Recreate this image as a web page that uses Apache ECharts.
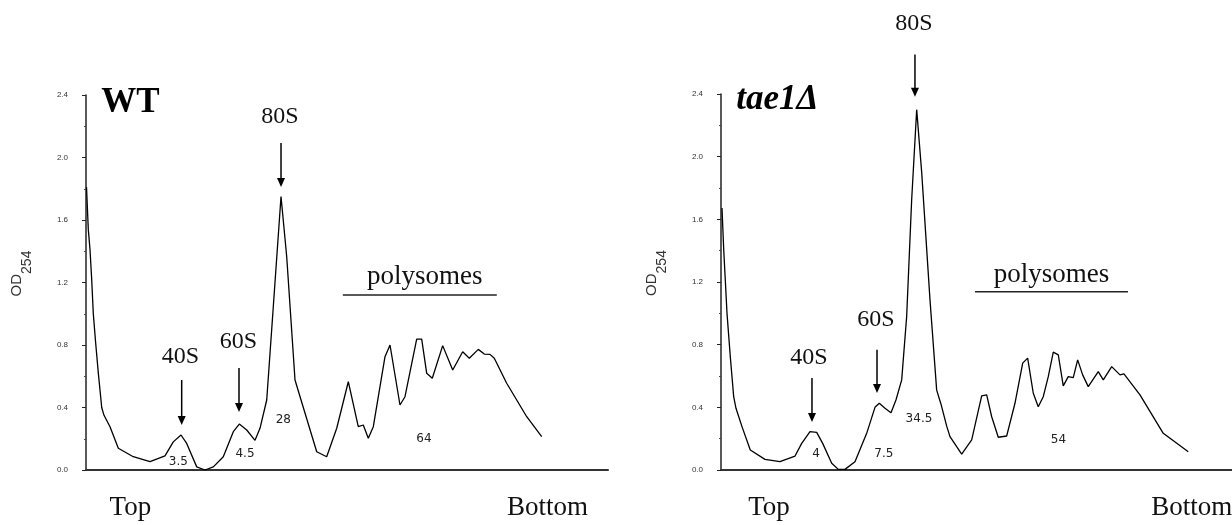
<!DOCTYPE html>
<html>
<head>
<meta charset="utf-8">
<script src="https://cdn.jsdelivr.net/npm/echarts@6/dist/echarts.min.js"></script>
<style>
  html, body { margin: 0; padding: 0; background: #fff; }
  #chart { width: 1232px; height: 525px; }
</style>
</head>
<body>
<div id="chart"></div>
<script>
// gradient position (% of tube, top -> bottom) and OD254
const wtX = [0.1, 0.44, 0.77, 1.09, 1.4, 1.86, 2.36, 3.01, 3.45, 4.6, 6.19, 9.06, 12.26, 15.13, 16.72, 18.2, 19.29, 21.21, 22.8, 24.39,
  26.3, 28.22, 29.37, 30.79, 32.38, 33.33, 34.62, 35.88, 37.36, 38.45, 40.04, 41.63, 44.2, 46.11, 48.03, 50.25, 52.16, 53.12, 54.08, 55.04,
  57.28, 58.24, 60.15, 61.11, 63.35, 64.31, 65.27, 66.34, 68.33, 70.25, 72.16, 73.43, 75.15, 76.3, 77.39, 78.22, 80.59, 84.43, 87.3]
const wtY = [1.81, 1.54, 1.41, 1.22, 1.0, 0.81, 0.62, 0.4, 0.35, 0.277, 0.139, 0.085, 0.053, 0.09, 0.18, 0.224, 0.17, 0.02, 0.0, 0.02,
  0.085, 0.245, 0.294, 0.256, 0.19, 0.267, 0.448, 1.045, 1.75, 1.365, 0.576, 0.4, 0.117, 0.085, 0.267, 0.565, 0.277, 0.288, 0.203, 0.277,
  0.725, 0.8, 0.416, 0.469, 0.838, 0.838, 0.619, 0.587, 0.796, 0.64, 0.757, 0.715, 0.772, 0.742, 0.74, 0.715, 0.555, 0.341, 0.213]

const taeX = [0.19, 0.52, 0.82, 1.15, 1.78, 2.43, 2.87, 4.02, 5.61, 8.43, 11.3, 14.18, 15.46, 17.05, 18.33, 19.48, 21.21, 22.47, 23.75, 25.67,
  27.91, 29.5, 30.33, 31.42, 32.57, 33.52, 34.62, 35.57, 36.53, 37.49, 38.45, 40.04, 41.32, 42.15, 43.24, 43.87, 45.15, 46.11, 48.03, 49.94,
  50.9, 51.86, 53.12, 54.73, 56.32, 57.8, 58.75, 59.83, 60.78, 61.74, 62.7, 63.66, 64.62, 65.57, 66.53, 67.49, 68.33, 69.29, 70.36, 72.28,
  73.24, 74.85, 76.44, 77.2, 80.27, 84.73, 89.52]
const taeY = [1.672, 1.406, 1.214, 1.0, 0.724, 0.468, 0.394, 0.277, 0.128, 0.068, 0.053, 0.089, 0.17, 0.245, 0.24, 0.17, 0.043, 0.004, 0.004, 0.053,
  0.234, 0.4, 0.426, 0.394, 0.366, 0.447, 0.575, 0.98, 1.725, 2.3, 1.9, 1.086, 0.51, 0.42, 0.28, 0.213, 0.149, 0.102, 0.192, 0.473,
  0.479, 0.34, 0.209, 0.217, 0.426, 0.682, 0.714, 0.49, 0.404, 0.468, 0.596, 0.752, 0.735, 0.537, 0.596, 0.59, 0.703, 0.607, 0.532, 0.628,
  0.575, 0.66, 0.607, 0.613, 0.479, 0.234, 0.117]

const yTicks = [0, 0.4, 0.8, 1.2, 1.6, 2.0, 2.4]
const peakNames = ['40S', '60S', '80S']
const wtShares = ['3.5', '4.5', '28', '64']
const taeShares = ['4', '7.5', '34.5', '54']

// where the annotations sit, in data units of each panel
const layout = [
  {
    title: 'WT', titleAt: [8.5, 2.352], italic: false,
    peakAt: [[18.1, 0.726], [29.2, 0.822], [37.16, 2.262]],
    arrows: [[18.33, 0.576, 0.288], [29.31, 0.653, 0.371], [37.36, 2.093, 1.811]],
    shareAt: [[17.7, 0.054], [30.46, 0.106], [37.8, 0.32], [64.75, 0.2]],
    polyAt: [64.9, 1.238], polyBar: [49.2, 78.7, 1.12],
    topAt: [8.5, -0.243], bottomAt: [88.4, -0.243]
  },
  {
    title: 'tae1Δ', titleAt: [10.8, 2.364], italic: true,
    peakAt: [[16.86, 0.719], [29.69, 0.958], [36.97, 2.847]],
    arrows: [[17.43, 0.588, 0.307], [29.89, 0.767, 0.492], [37.16, 2.652, 2.383]],
    shareAt: [[18.2, 0.105], [31.2, 0.105], [37.93, 0.329], [64.66, 0.192]],
    polyAt: [63.3, 1.246], polyBar: [48.66, 77.97, 1.137],
    topAt: [9.2, -0.243], bottomAt: [90.2, -0.243]
  }
]

const serif = 'Liberation Serif'

function lineSeries(xs, ys, idx) {
  return {
    type: 'line',
    xAxisIndex: idx,
    yAxisIndex: idx,
    data: xs.map((x, i) => [x, ys[i]]),
    showSymbol: false,
    symbol: 'none',
    silent: true,
    lineStyle: { color: '#000', width: 1.3 }
  }
}

function yAxis(idx) {
  return {
    type: 'value',
    gridIndex: idx,
    min: yTicks[0],
    max: yTicks[yTicks.length - 1],
    interval: 0.4,
    name: '{o|OD}{s|254}',
    nameLocation: 'middle',
    nameRotate: 90,
    nameGap: 52,
    nameTextStyle: {
      padding: [0, 0, 0, 18],
      rich: {
        o: { fontFamily: 'Liberation Sans', fontSize: 15, color: '#333', padding: [0, 0, 10, 0], verticalAlign: 'top' },
        s: { fontFamily: 'Liberation Sans', fontSize: 14, color: '#333', verticalAlign: 'bottom' }
      }
    },
    axisLine: { show: true, lineStyle: { color: '#222', width: 1.5 } },
    axisTick: { show: true, length: 4, lineStyle: { color: '#222' } },
    minorTick: { show: true, splitNumber: 2, length: 2, lineStyle: { color: '#444' } },
    splitLine: { show: false },
    axisLabel: {
      margin: 18,
      fontFamily: 'Liberation Sans',
      fontSize: 8,
      color: '#333',
      formatter: v => v.toFixed(1)
    }
  }
}

// the right panel runs off the page, so its axis stops at the page edge
function xAxis(idx, max) {
  return {
    type: 'value',
    gridIndex: idx,
    min: 0,
    max: max,
    axisLine: { show: true, onZero: false, lineStyle: { color: '#333', width: 2 } },
    axisTick: { show: false },
    axisLabel: { show: false },
    splitLine: { show: false }
  }
}

let myChart = echarts.init(document.getElementById('chart'))
myChart.setOption({
  backgroundColor: '#fff',
  animation: false,
  grid: [
    { left: 86, top: 95, width: 522, height: 375 },
    { left: 721, top: 94, width: 511, height: 376 }
  ],
  xAxis: [xAxis(0, 100), xAxis(1, 97.9)],
  yAxis: [yAxis(0), yAxis(1)],
  series: [
    lineSeries(wtX, wtY, 0),
    lineSeries(taeX, taeY, 1)
  ]
})

// annotations: placed from data coordinates through each panel's axes
function text(idx, str, at, font, color) {
  let p = myChart.convertToPixel({ gridIndex: idx }, at)
  return {
    type: 'text', silent: true, x: p[0], y: p[1],
    style: { text: str, font: font, fill: color || '#111', align: 'center', verticalAlign: 'middle' }
  }
}

function arrow(idx, a) {
  let p1 = myChart.convertToPixel({ gridIndex: idx }, [a[0], a[1]])
  let p2 = myChart.convertToPixel({ gridIndex: idx }, [a[0], a[2]])
  return [
    { type: 'line', silent: true, shape: { x1: p1[0], y1: p1[1], x2: p2[0], y2: p2[1] - 6 }, style: { stroke: '#000', lineWidth: 1.5 } },
    { type: 'polygon', silent: true, shape: { points: [[p2[0] - 4, p2[1] - 9], [p2[0] + 4, p2[1] - 9], [p2[0], p2[1]]] }, style: { fill: '#000' } }
  ]
}

let elements = []
layout.forEach((lay, idx) => {
  let shares = idx === 0 ? wtShares : taeShares
  elements.push(text(idx, lay.title, lay.titleAt, (lay.italic ? 'italic ' : '') + 'bold 35px "' + serif + '"', '#000'))
  peakNames.forEach((n, i) => {
    elements.push(text(idx, n, lay.peakAt[i], '24px "' + serif + '"'))
    arrow(idx, lay.arrows[i]).forEach(e => elements.push(e))
  })
  shares.forEach((s, i) => {
    elements.push(text(idx, s, lay.shareAt[i], '12px "DejaVu Sans"', '#222'))
  })
  elements.push(text(idx, 'polysomes', lay.polyAt, '27px "' + serif + '"'))
  let b1 = myChart.convertToPixel({ gridIndex: idx }, [lay.polyBar[0], lay.polyBar[2]])
  let b2 = myChart.convertToPixel({ gridIndex: idx }, [lay.polyBar[1], lay.polyBar[2]])
  elements.push({ type: 'line', silent: true, shape: { x1: b1[0], y1: b1[1], x2: b2[0], y2: b2[1] }, style: { stroke: '#222', lineWidth: 1.5 } })
  elements.push(text(idx, 'Top', lay.topAt, '27px "' + serif + '"'))
  elements.push(text(idx, 'Bottom', lay.bottomAt, '27px "' + serif + '"'))
})

myChart.setOption({ graphic: elements })
</script>
</body>
</html>
